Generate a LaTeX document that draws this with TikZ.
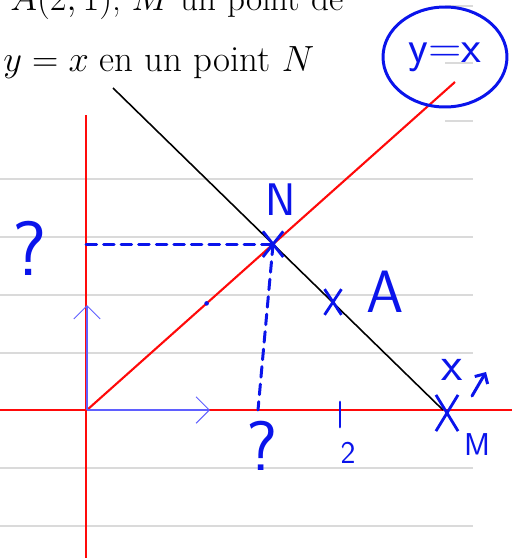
\documentclass[tikz,border=0pt]{standalone}
\usepackage{amsmath,amssymb}
\usepackage{tikz}
\usetikzlibrary{arrows.meta,shapes.misc,shapes.geometric,calc}
\definecolor{PenBlue}{RGB}{10,20,235}
\definecolor{VecBlue}{RGB}{95,95,255}
\definecolor{AxisRed}{RGB}{255,10,10}
\definecolor{RuleGray}{RGB}{218,218,218}
\tikzset{
  ruled/.style={RuleGray, line width=1.1pt},
  axisline/.style={AxisRed, line width=1.2pt},
  blackline/.style={black, line width=0.9pt},
  pen/.style={PenBlue, inner sep=0pt, font=\sffamily\fontsize{#1}{#1}\selectfont},
  pen/.default=20,
  penline/.style={PenBlue, line width=1.7pt, line cap=round},
  dashline/.style={penline, dash pattern=on 6pt off 4pt},
  xmark/.style={cross out, draw=PenBlue, line width=1.6pt, inner sep=0pt},
  uvec/.style={-{Straight Barb[length=7.5pt, width=15pt]}, VecBlue, line width=0.6pt},
  printed/.style={anchor=base west, inner sep=0pt, font=\fontsize{#1}{24}\selectfont},
  printed/.default=20,
}

\begin{document}
\begin{tikzpicture}[x=0.02cm, y=-0.02cm]
  \useasboundingbox (0,0) rectangle (526,558);
  % ruled paper
  \foreach \r in {179,237,295,353,410,468,526} {\draw[ruled] (0,\r) -- (473,\r);}
  \foreach \r in {6,63,121} {\draw[ruled] (445,\r) -- (473,\r);}
  % printed text
  \node[printed] (txtA) at (10,10) {$A(2,1)$, $M$ un point de};
  \node[printed=21] (txtB) at (3,71) {$y=x$ en un point $N$};

  % axes and lines
  \coordinate (O) at (87,410);
  \coordinate (yTop) at (86,115);
  \coordinate (yBot) at (86,558);
  \coordinate (xL) at (0,410);
  \coordinate (xR) at (512,410);
  \coordinate (D) at (455,82);
  \coordinate (B) at (113,88);
  \coordinate (M) at (443,410);
  \coordinate (A) at (333,302);
  \coordinate (N) at (intersection of O--D and B--M);
  \draw[axisline] (yTop) -- (yBot);
  \draw[axisline] (xL) -- (xR);
  \draw[axisline] (O) -- (D);
  \draw[blackline] (B) -- (M);

  % unit vectors
  \coordinate (I) at (210,410);
  \coordinate (J) at (87,305);
  \draw[uvec] (O) -- (I);
  \draw[uvec] (O) -- (J);

  % projections of N
  \coordinate (Ny) at (yTop |- N);
  \coordinate (Nx) at (258,410);
  \draw[dashline] (Ny) -- (N);
  \draw[dashline] (N) -- (Nx);

  % marks
  \node[xmark, minimum width=10pt, minimum height=13pt] (mN) at (N) {};
  \node[xmark, minimum width=8pt, minimum height=13pt] (mA) at (A) {};
  \node[xmark, minimum width=11pt, minimum height=19pt] (mM) at (447,413) {};
  \coordinate (T2) at (340,410);
  \draw[penline] ($(T2)+(0,-8)$) -- ($(T2)+(0,17)$);
  \fill[PenBlue] ($(O)!0.325!(D)$) circle (1.3pt);

  % labels
  \node[pen=26] (lN) at (281,200) {N};
  \node[pen=44] (qy) at (30,248) {?};
  \node[pen=40] (qx) at (262,446) {?};
  \node[pen=34] (lA) at (385,292) {A};
  \node[pen=18] (l2) at (348,453) {2};
  \node[pen=18] (lM) at (477,445) {M};
  \node[pen=28] (lx) at (452,370) {x};
  \coordinate (vS) at (472,396);
  \coordinate (vE) at (486,372);
  \draw[penline, -{Straight Barb[angle=90:6pt]}] (vS) -- (vE);
  \node[pen=26, draw=PenBlue, ellipse, line width=1.7pt,
    minimum width=2.48cm, minimum height=2cm] (cyx) at (445,57) {y=x};
\end{tikzpicture}
\end{document}
